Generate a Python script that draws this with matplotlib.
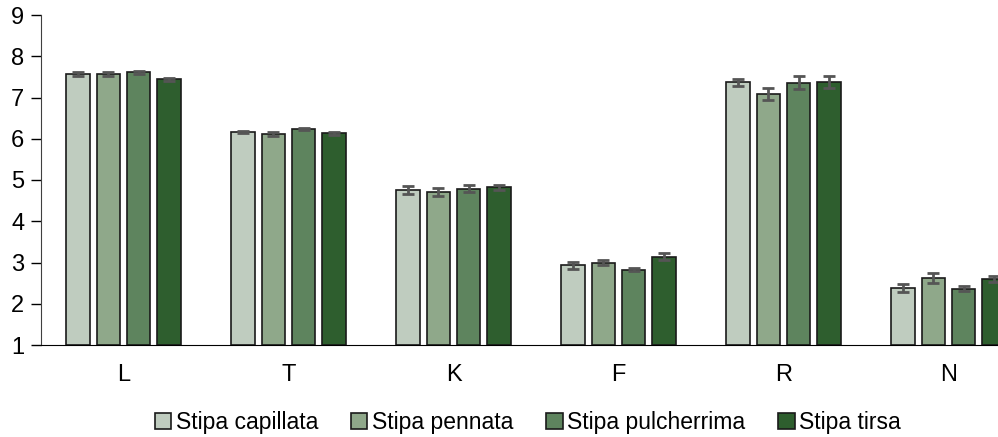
import numpy as np
import matplotlib.pyplot as plt

plt.rcParams['font.family'] = ['Liberation Sans', 'DejaVu Sans']

categories = ['L', 'T', 'K', 'F', 'R', 'N']
species = ['Stipa capillata', 'Stipa pennata', 'Stipa pulcherrima', 'Stipa tirsa']

means = [
    [7.58, 6.16, 4.76, 2.93, 7.37, 2.38],
    [7.57, 6.11, 4.71, 2.99, 7.09, 2.63],
    [7.61, 6.24, 4.79, 2.83, 7.36, 2.36],
    [7.44, 6.13, 4.82, 3.14, 7.38, 2.60],
]
errors = [
    [0.05, 0.03, 0.10, 0.08, 0.08, 0.10],
    [0.04, 0.05, 0.10, 0.06, 0.15, 0.12],
    [0.03, 0.03, 0.08, 0.04, 0.15, 0.06],
    [0.04, 0.03, 0.06, 0.08, 0.15, 0.08],
]
colors = ['#bfccbf', '#8fa88a', '#5e845e', '#2e5e2e']

fig = plt.figure(figsize=(9.98, 4.37), dpi=100)
ax = fig.add_axes([41 / 998, 92 / 437, 990 / 998, 330 / 437])

x = np.arange(len(categories))
step = 0.182
width = 0.145
for i in range(4):
    vals = np.array(means[i])
    ax.bar(x + (i - 1.5) * step, vals - 1, bottom=1, width=width,
           color=colors[i], edgecolor='#1a1a1a', linewidth=1.2,
           label=species[i], zorder=2)
    ax.errorbar(x + (i - 1.5) * step, vals, yerr=errors[i], fmt='none',
                ecolor='#555555', elinewidth=2, capsize=4, capthick=2,
                zorder=3)

ax.set_xlim(-0.5, 5.5)
ax.set_ylim(1, 9)
ax.set_yticks(range(1, 10))
ax.set_xticks(x, categories)
ax.tick_params(axis='y', labelsize=17, length=7, width=1, direction='out', pad=5)
ax.tick_params(axis='x', labelsize=17, length=0, pad=14)
for side in ['top', 'right']:
    ax.spines[side].set_visible(False)
ax.spines['left'].set_color('#404040')
ax.spines['bottom'].set_color('#000000')

fig.legend(loc='center', bbox_to_anchor=(0.529, 0.034), ncol=4,
           frameon=False, fontsize=16.5, handlelength=0.7, handleheight=0.7,
           handletextpad=0.2, columnspacing=1.45, borderpad=0)

fig.savefig('out.png', dpi=100)
